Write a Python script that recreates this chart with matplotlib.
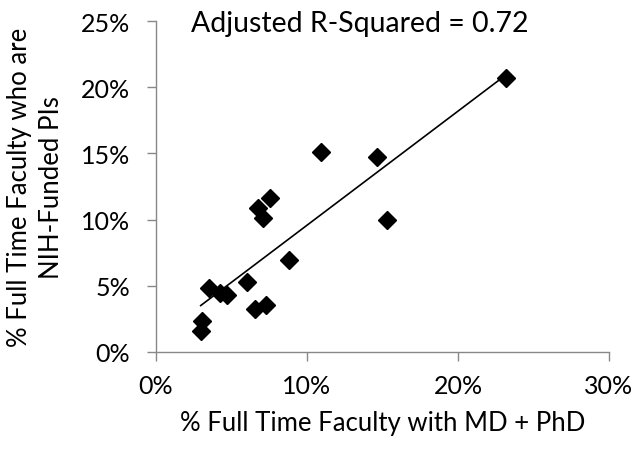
import matplotlib
matplotlib.use("Agg")
import matplotlib.pyplot as plt
import numpy as np
from matplotlib.ticker import FuncFormatter

# % full time faculty with MD + PhD
md_phd = [23.2, 10.95, 14.65, 15.3, 7.57, 6.73, 7.08, 8.78, 6.02,
          3.54, 4.25, 4.73, 6.57, 7.3, 3.03, 2.96]
# % full time faculty who are NIH-funded PIs
nih_pi = [20.7, 15.1, 14.7, 9.97, 11.6, 10.86, 10.1, 6.93, 5.29,
          4.84, 4.48, 4.33, 3.27, 3.53, 2.34, 1.59]

x_ticks = [0, 10, 20, 30]
y_ticks = [0, 5, 10, 15, 20, 25]

plt.rcParams["font.family"] = ["Lato", "DejaVu Sans"]

fig = plt.figure(figsize=(6.35, 4.52), dpi=100)
ax = fig.add_axes([156 / 635, 1 - 353 / 452, (609 - 156) / 635, (353 - 22) / 452])

x = np.array(md_phd)
y = np.array(nih_pi)

# linear trend line over the data range
slope, intercept = np.polyfit(x, y, 1)
xs = np.array([x.min(), x.max()])
ax.plot(xs, slope * xs + intercept, color="black", lw=1.2, zorder=2)

ax.plot(x, y, linestyle="none", marker="D", markersize=9.2,
        color="black", zorder=3)

ax.set_xlim(0, 30)
ax.set_ylim(0, 25)
ax.set_xticks(x_ticks)
ax.set_yticks(y_ticks)
pct = FuncFormatter(lambda v, _: f"{v:.0f}%")
ax.xaxis.set_major_formatter(pct)
ax.yaxis.set_major_formatter(pct)

for side in ["top", "right"]:
    ax.spines[side].set_visible(False)
for side in ["left", "bottom"]:
    ax.spines[side].set_color("#888888")
    ax.spines[side].set_linewidth(1.0)

ax.tick_params(axis="both", direction="out", length=6.5, width=1.0,
               color="#888888", labelsize=18, labelcolor="black")
ax.tick_params(axis="y", pad=12)
ax.tick_params(axis="x", pad=9)

ax.set_xlabel("% Full Time Faculty with MD + PhD", fontsize=18.5, labelpad=10)
ax.set_ylabel("% Full Time Faculty who are\nNIH-Funded PIs", fontsize=18.5,
              labelpad=12, linespacing=1.35)

fig.text(191 / 635, 1 - 32 / 452, "Adjusted R-Squared = 0.72",
         fontsize=20.5, ha="left", va="baseline")

fig.savefig("out.png", dpi=100)
